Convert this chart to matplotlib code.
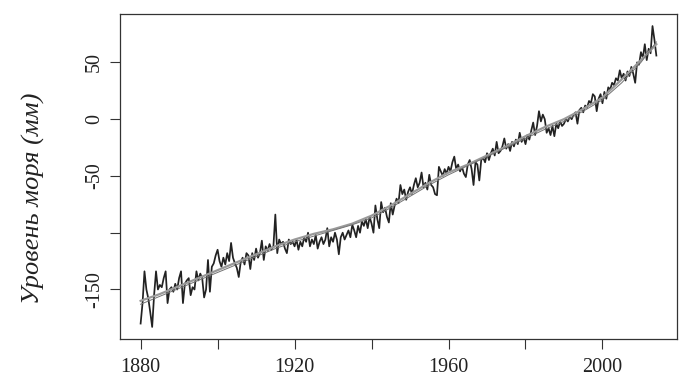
import numpy as np
import matplotlib
matplotlib.use("Agg")
import matplotlib.pyplot as plt

plt.rcParams['font.family'] = ['Liberation Serif', 'DejaVu Serif']

# уровень моря, мм (шаг полгода, 1880.0 - 2014.0)
start_year = 1880.0
step = 0.5
sea_level = [
    -180, -162, -134, -150, -158, -170, -183, -155, -134, -150,
    -146, -148, -140, -134, -162, -150, -148, -152, -145, -150,
    -140, -134, -162, -145, -142, -140, -155, -148, -150, -134,
    -142, -136, -140, -157, -150, -124, -152, -130, -127, -120,
    -115,
    -125, -130, -122, -128, -118, -125, -109, -122, -127, -131,
    -139, -126, -122, -128, -118, -120, -132, -118, -124, -114,
    -122, -118, -107, -124, -112, -116, -110, -115, -112, -84,
    -118, -106, -110, -108, -114, -118, -106, -110, -108, -112,
    -106, -115, -108, -112, -104, -108, -100, -112, -106, -110,
    -102, -114, -108, -104, -110, -106, -96, -112, -104, -108,
    -100, -106, -119, -104, -100, -106, -102, -98, -104, -93,
    -98, -104, -94, -100, -90, -94, -88, -96, -86, -92,
    -100, -76, -88, -96, -73,
    -82, -78, -86, -91, -74, -84, -76, -70, -74, -58,
    -66, -62, -71, -64, -60, -66, -58, -52, -60, -56,
    -47, -60, -56, -62, -49, -58, -60, -66, -67, -42,
    -46, -50, -44, -48, -42, -46, -38, -33, -44,
    -40, -46, -42, -48, -51, -40, -36, -44, -58, -38,
    -40, -54, -36, -34, -38, -30, -36, -30, -26, -32,
    -20, -30, -28, -24, -17, -26, -22, -28, -20, -24,
    -18, -22, -12, -20, -16, -22, -14, -18, -10, -3,
    -14, -6, 7, -2,
    4, 0, -12, -8, -14, -6, -15, -4, -8, -2,
    -6, -4, 0, -2, 2, 0, 4, 6, -4, 8,
    10, 6, 12, 10, 16, 14, 22, 20, 7, 18,
    22, 14, 24, 18, 28, 26, 32, 30, 36, 34,
    43,
    36, 40, 34, 42, 38, 46, 40, 32, 50, 48,
    59, 54, 66, 52, 62, 58, 82, 70, 56,
]
years = start_year + step * np.arange(len(sea_level))

# сглаженные кривые
smooth_years = [1880, 1885, 1890, 1895, 1900, 1905, 1910, 1915, 1920, 1925,
                1930, 1935, 1940, 1945, 1950, 1955, 1960, 1965, 1970, 1975,
                1980, 1985, 1990, 1995, 2000, 2005, 2010, 2014]
smooth_a = [-160, -154, -147, -140, -133, -126, -119, -112, -106, -101,
            -97, -92, -85, -76, -66, -56, -47, -40, -32, -24,
            -15, -7, 0, 9, 19, 35, 52, 66]
smooth_b = [-163, -156, -149, -142, -135, -128, -121, -114, -108, -103,
            -98, -93, -87, -78, -68, -58, -49, -41, -33, -25,
            -17, -9, -2, 7, 17, 32, 50, 68]

fig = plt.figure(figsize=(6.92, 3.92), dpi=100)
ax = fig.add_axes([0.1734, 0.1352, 0.8049, 0.8291])

ax.plot(years, sea_level, color='#222222', lw=1.25)
ax.plot(smooth_years, smooth_a, color='0.6', lw=1.6)
ax.plot(smooth_years, smooth_b, color='0.45', lw=0.7)

ax.margins(x=0.04, y=0.04)

ax.set_xticks([1880, 1900, 1920, 1940, 1960, 1980, 2000])
ax.set_xticklabels(['1880', '', '1920', '', '1960', '', '2000'])
ax.set_yticks([50, 0, -50, -100, -150])
ax.set_yticklabels(['50', '0', '-50', '', '-150'], rotation=90, va='center')

ax.tick_params(length=7.5, width=0.8, color='#333333', labelsize=14.5,
               labelcolor='#222222')
ax.tick_params(axis='x', pad=6)
ax.tick_params(axis='y', pad=4)
for s in ax.spines.values():
    s.set_linewidth(0.9)
    s.set_color('#333333')

ax.set_ylabel('Уровень моря (мм)', fontsize=19, style='italic', color='#222222')
ax.yaxis.set_label_coords(-0.135, 0.434)

fig.savefig('out.png', dpi=100)
